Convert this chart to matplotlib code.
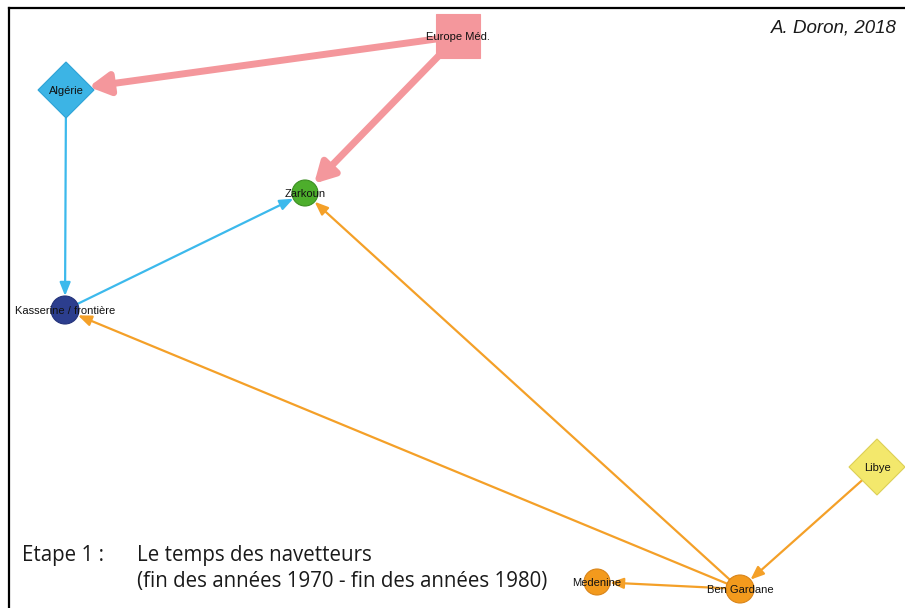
import matplotlib
matplotlib.use("Agg")
import matplotlib.pyplot as plt
from matplotlib.patches import Rectangle, Circle, RegularPolygon
from matplotlib.lines import Line2D

# ---- data ----
node_names = ["Europe Méd.", "Algérie", "Zarkoun", "Kasserine / frontière",
              "Ben Gardane", "Medenine", "Libye"]
node_x = [458, 66, 305, 65, 740, 597, 877]
node_y = [36, 90, 193, 310, 589, 582, 467]
node_shape = ["square", "diamond", "circle", "circle", "circle", "circle", "diamond"]
node_size = [22, 28, 13, 14, 14, 13, 28]
node_color = ["#F4979C", "#3CB4E5", "#4DAE2C", "#2C3E8E", "#F39A1D", "#F39A1D", "#F3E86C"]
node_edge = ["#F4979C", "#2FA3D6", "#3C8F22", "#23327A", "#D9851A", "#D9851A", "#DCCF55"]

edge_src = ["Europe Méd.", "Europe Méd.", "Algérie", "Kasserine / frontière",
            "Ben Gardane", "Ben Gardane", "Ben Gardane", "Libye"]
edge_dst = ["Algérie", "Zarkoun", "Kasserine / frontière", "Zarkoun",
            "Kasserine / frontière", "Zarkoun", "Medenine", "Ben Gardane"]
edge_color = ["#F4979C", "#F4979C", "#3CB9EC", "#3CB9EC",
              "#F4A028", "#F4A028", "#F4A028", "#F4A028"]
edge_width = [5.0, 5.0, 1.6, 1.6, 1.6, 1.6, 1.6, 1.6]
edge_shrinkA = [22, 24, 28, 14, 14, 14, 14, 20]
edge_shrinkB = [23, 13, 14, 13, 14, 13, 13, 14]

title_1 = "Etape 1 :"
title_2 = "Le temps des navetteurs"
title_3 = "(fin des années 1970 - fin des années 1980)"
credit = "A. Doron, 2018"

W, H = 905, 608
fig = plt.figure(figsize=(W / 100, H / 100), dpi=100)
ax = fig.add_axes([0, 0, 1, 1])
ax.set_xlim(0, W)
ax.set_ylim(H, 0)
ax.axis("off")

# frame lines
ax.add_line(Line2D([8.5, W], [7.5, 7.5], color="black", lw=1.6))
ax.add_line(Line2D([8.5, 8.5], [7.5, H], color="black", lw=1.6))

pos = {n: (x, y) for n, x, y in zip(node_names, node_x, node_y)}

# edges
for s, d, c, w, sa, sb in zip(edge_src, edge_dst, edge_color, edge_width,
                              edge_shrinkA, edge_shrinkB):
    if w > 3:
        style = "-|>,head_length=1.0,head_width=0.55"
        msc = 12
    else:
        style = "-|>,head_length=0.8,head_width=0.32"
        msc = 10
    ax.annotate("", xy=pos[d], xytext=pos[s],
                arrowprops=dict(arrowstyle=style, color=c, lw=w,
                                shrinkA=sa * 0.72, shrinkB=sb * 0.72,
                                mutation_scale=msc),
                zorder=1)

# nodes
for n, x, y, sh, sz, fc, ec in zip(node_names, node_x, node_y, node_shape,
                                   node_size, node_color, node_edge):
    if sh == "square":
        p = Rectangle((x - sz, y - sz), 2 * sz, 2 * sz, facecolor=fc, edgecolor=ec, lw=0.8)
    elif sh == "diamond":
        p = RegularPolygon((x, y), 4, radius=sz, orientation=0, facecolor=fc,
                           edgecolor=ec, lw=0.8)
    else:
        p = Circle((x, y), sz, facecolor=fc, edgecolor=ec, lw=0.8)
    p.set_zorder(2)
    ax.add_patch(p)
    ax.text(x, y + 1, n, ha="center", va="center", fontsize=8,
            family="Liberation Sans", color="#111111", zorder=3)

# titles
tf = "Open Sans"
ax.text(22, 555, title_1, fontsize=14.8, family=tf, va="center", ha="left", color="#1a1a1a")
ax.text(137, 555, title_2, fontsize=14.8, family=tf, va="center", ha="left", color="#1a1a1a")
ax.text(137, 582, title_3, fontsize=14.8, family=tf, va="center", ha="left", color="#1a1a1a")
ax.text(897, 28, credit, fontsize=13.5, family="Liberation Sans", style="italic",
        va="center", ha="right", color="#1a1a1a")

fig.savefig("out.png", dpi=100)
